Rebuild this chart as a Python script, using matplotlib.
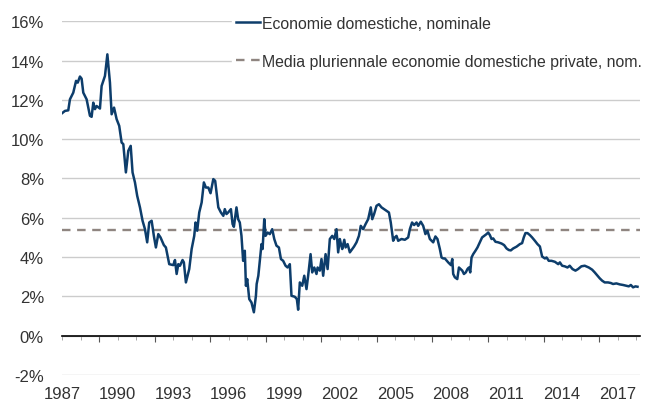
import matplotlib
matplotlib.use("Agg")
from matplotlib import pyplot as plt
from matplotlib.ticker import MultipleLocator, FuncFormatter

# Werte (Jahr als Dezimalzahl, Wachstum in %)
jahre = [
    1987.00, 1987.16, 1987.34, 1987.43, 1987.61, 1987.76, 1987.85, 1987.97, 1988.06, 1988.15,
    1988.33, 1988.51, 1988.60, 1988.69, 1988.78, 1988.87, 1989.05, 1989.14, 1989.32, 1989.45,
    1989.59, 1989.68, 1989.81, 1989.95, 1990.09, 1990.22, 1990.31, 1990.45, 1990.58, 1990.71,
    1990.81, 1990.94, 1991.06, 1991.21, 1991.35, 1991.48, 1991.60, 1991.71, 1991.84, 1991.96,
    1992.07, 1992.20, 1992.32, 1992.50, 1992.61, 1992.79, 1993.01, 1993.10, 1993.19, 1993.28,
    1993.37, 1993.51, 1993.58, 1993.69, 1993.87, 1994.00, 1994.14, 1994.21, 1994.30, 1994.41,
    1994.54, 1994.66, 1994.77, 1994.90, 1995.02, 1995.17, 1995.27, 1995.44, 1995.58, 1995.71,
    1995.79, 1995.88, 1995.97, 1996.12, 1996.21, 1996.28, 1996.42, 1996.51, 1996.60, 1996.69,
    1996.78, 1996.87, 1996.93, 1997.00, 1997.11, 1997.23, 1997.36, 1997.47,
    1997.51, 1997.60, 1997.69, 1997.77, 1997.83, 1997.92, 1997.99, 1998.10, 1998.22, 1998.35,
    1998.46, 1998.58, 1998.71, 1998.82, 1998.94, 1999.07, 1999.18, 1999.30, 1999.39, 1999.57,
    1999.68, 1999.75, 1999.84, 1999.97, 2000.08, 2000.20, 2000.29, 2000.42, 2000.51, 2000.62,
    2000.74, 2000.80, 2000.92, 2001.01, 2001.10, 2001.23, 2001.34, 2001.46, 2001.59, 2001.70,
    2001.82, 2001.91, 2002.00, 2002.06, 2002.13, 2002.24, 2002.31, 2002.42, 2002.54, 2002.67,
    2002.77, 2002.90, 2003.03, 2003.13, 2003.26, 2003.39, 2003.53, 2003.67, 2003.75, 2003.85,
    2003.98, 2004.11, 2004.25, 2004.39, 2004.52, 2004.65, 2004.75, 2004.88, 2004.97, 2005.06,
    2005.15, 2005.33, 2005.51, 2005.69, 2005.78, 2005.90, 2006.01, 2006.14, 2006.23, 2006.37,
    2006.50, 2006.62, 2006.73, 2006.86, 2007.04, 2007.16, 2007.27, 2007.40, 2007.49, 2007.58,
    2007.67, 2007.85, 2008.00, 2008.07, 2008.12, 2008.21, 2008.34, 2008.43, 2008.52, 2008.61,
    2008.70, 2008.80, 2008.89, 2008.97, 2009.04, 2009.11, 2009.20, 2009.32, 2009.43, 2009.56,
    2009.68, 2009.79, 2009.92, 2010.01, 2010.10, 2010.19, 2010.28, 2010.40, 2010.55, 2010.73,
    2010.87, 2011.00, 2011.12, 2011.23, 2011.36, 2011.54, 2011.72, 2011.84, 2011.93, 2012.02,
    2012.13, 2012.26, 2012.38, 2012.53, 2012.67, 2012.80, 2012.92, 2013.07, 2013.16, 2013.28,
    2013.43, 2013.61, 2013.79, 2013.88, 2014.00, 2014.14, 2014.29, 2014.41, 2014.56, 2014.72,
    2014.86, 2015.04, 2015.22, 2015.44, 2015.62, 2015.76, 2015.91, 2016.03, 2016.16, 2016.30,
    2016.48, 2016.63, 2016.75, 2016.93, 2017.11, 2017.29, 2017.47, 2017.60, 2017.71, 2017.83,
    2017.96, 2018.07,
]
nominale = [
    11.32, 11.44, 11.47, 12.03, 12.37, 12.97, 12.88, 13.19, 13.08, 12.37,
    12.03, 11.19, 11.14, 11.86, 11.53, 11.69, 11.56, 12.71, 13.22, 14.32,
    12.88, 11.27, 11.61, 11.02, 10.68, 9.83, 9.75, 8.31, 9.41, 9.66,
    8.31, 7.80, 7.12, 6.53, 5.85, 5.42, 4.75, 5.76, 5.85, 5.08,
    4.49, 5.17, 5.00, 4.61, 4.49, 3.64, 3.59, 3.85, 3.14, 3.64,
    3.56, 3.85, 3.73, 2.71, 3.39, 4.41, 5.08, 5.76, 5.34, 6.27,
    6.78, 7.80, 7.54, 7.54, 7.25, 7.97, 7.88, 6.53, 6.27, 6.10,
    6.44, 6.19, 6.27, 6.44, 5.68, 5.54, 6.53, 5.93, 5.76, 5.08,
    3.81, 4.32, 2.54, 2.88, 1.86, 1.69, 1.19, 2.03,
    2.63, 3.05, 3.90, 4.66, 4.41, 5.93, 5.08, 5.25, 5.17, 5.42,
    4.92, 4.58, 4.49, 3.90, 3.81, 3.56, 3.47, 3.64, 2.03, 1.98,
    1.86, 1.32, 2.71, 2.54, 3.05, 2.37, 3.05, 4.15, 3.22, 3.47,
    3.14, 3.47, 3.31, 3.90, 3.05, 4.15, 3.39, 4.92, 5.08, 4.92,
    5.42, 4.24, 4.92, 4.66, 4.41, 4.88, 4.49, 4.66, 4.24, 4.41,
    4.54, 4.75, 5.08, 5.59, 5.42, 5.68, 5.93, 6.53, 5.93, 6.19,
    6.61, 6.69, 6.53, 6.44, 6.36, 6.27, 5.76, 4.83, 5.00, 5.08,
    4.83, 4.92, 4.88, 5.00, 5.42, 5.76, 5.63, 5.76, 5.59, 5.80,
    5.59, 5.17, 5.34, 4.92, 4.75, 5.05, 4.92, 4.41, 3.98, 3.93,
    3.93, 3.73, 3.59, 3.90, 3.14, 2.97, 2.88, 3.47, 3.39, 3.31,
    3.14, 3.22, 3.39, 3.47, 3.22, 3.98, 4.15, 4.32, 4.49, 4.75,
    5.00, 5.08, 5.17, 5.25, 5.12, 4.92, 4.95, 4.78, 4.75, 4.69,
    4.61, 4.44, 4.36, 4.34, 4.44, 4.53, 4.66, 4.71, 5.00, 5.22,
    5.22, 5.12, 5.00, 4.83, 4.66, 4.54, 4.03, 3.93, 3.98, 3.81,
    3.81, 3.76, 3.64, 3.73, 3.56, 3.53, 3.47, 3.56, 3.39, 3.31,
    3.39, 3.53, 3.56, 3.47, 3.36, 3.22, 3.05, 2.92, 2.80, 2.71,
    2.71, 2.68, 2.63, 2.66, 2.61, 2.58, 2.54, 2.51, 2.58, 2.46,
    2.51, 2.49,
]
media = 5.38
etichette_anni = [1987, 1990, 1993, 1996, 1999, 2002, 2005, 2008, 2011, 2014, 2017]

plt.rcParams['font.family'] = ['Liberation Sans', 'DejaVu Sans']
fig = plt.figure(figsize=(6.49, 4.06), dpi=100)
ax = fig.add_axes([0.0955, 0.074, 0.8905, 0.871])

ax.plot(jahre, nominale, color='#0d3d6b', lw=1.8, label='Economie domestiche, nominale', zorder=3)
ax.axhline(media, color='#8f8580', lw=1.7, dashes=(3.6, 2.8),
           label='Media pluriennale economie domestiche private, nom.', zorder=2)

ax.set_xlim(1987, 2018.2)
ax.set_ylim(-2, 16)
ax.yaxis.set_major_locator(MultipleLocator(2))
ax.yaxis.set_major_formatter(FuncFormatter(lambda v, p: '%d%%' % v))
ax.grid(axis='y', color='#cccccc', lw=1)
ax.set_axisbelow(True)

for s in ['left', 'right', 'top']:
    ax.spines[s].set_visible(False)
ax.spines['bottom'].set_position(('data', 0))
ax.spines['bottom'].set_color('black')
ax.spines['bottom'].set_linewidth(1.2)
ax.spines['bottom'].set_zorder(4)

ax.xaxis.set_major_locator(MultipleLocator(3))
ax.xaxis.set_minor_locator(MultipleLocator(1))
ax.tick_params(axis='x', which='major', length=4.5, color='#555555', labelbottom=False)
ax.tick_params(axis='x', which='minor', length=3, color='#999999')
ax.tick_params(axis='y', length=0, pad=13, labelsize=12, labelcolor='#333333')

# Jahreszahlen unter dem Diagramm
sec = ax.secondary_xaxis(0.0)
sec.set_xticks(etichette_anni)
sec.set_xticklabels([str(a) for a in etichette_anni])
sec.tick_params(length=0, pad=8, labelsize=12, labelcolor='#333333')
sec.spines['bottom'].set_visible(False)

leg = ax.legend(loc='upper left', bbox_to_anchor=(0.28, 1.052), frameon=True, fontsize=11.4,
                handlelength=1.5, handletextpad=0.1, labelspacing=1.45, borderpad=0.3,
                fancybox=False)
leg.get_frame().set_edgecolor('white')
leg.get_frame().set_facecolor('white')
leg.get_frame().set_alpha(1)
for t in leg.get_texts():
    t.set_color('#333333')

plt.savefig('out.png', dpi=100)
